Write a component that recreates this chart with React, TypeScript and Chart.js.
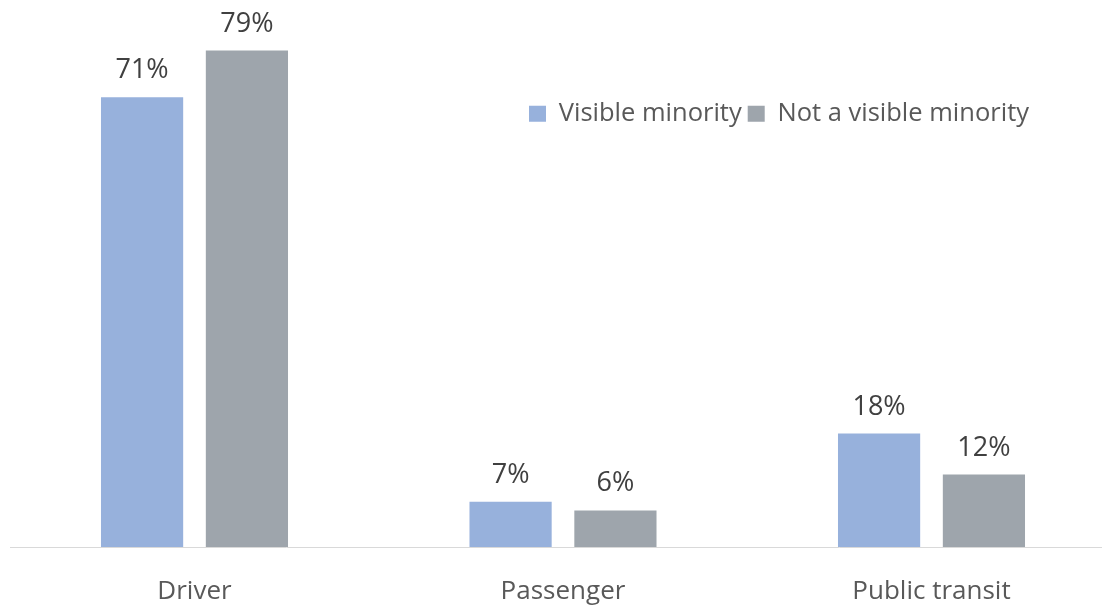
import React, { useEffect, useRef } from "react";
import { Chart, registerables } from "chart.js";

Chart.register(...registerables);

const categories = ["Driver", "Passenger", "Public transit"];
const visibleMinority = [71.4, 7.2, 18.0];
const notVisibleMinority = [78.8, 5.8, 11.5];
const seriesNames = ["Visible minority", "Not a visible minority"];
const seriesColors = ["#97B1DC", "#9EA5AC"];
const yMax = 80;

const FONT = "'Open Sans', 'Noto Sans', sans-serif";

export default function App() {
  const ref = useRef<HTMLCanvasElement>(null);

  useEffect(() => {
    if (!ref.current) return;

    const valueLabels = {
      id: "valueLabels",
      afterDatasetsDraw(chart: any) {
        const ctx = chart.ctx;
        ctx.save();
        ctx.font = `27px ${FONT}`;
        ctx.fillStyle = "#404040";
        ctx.textAlign = "center";
        ctx.textBaseline = "alphabetic";
        chart.data.datasets.forEach((ds: any, i: number) => {
          const meta = chart.getDatasetMeta(i);
          meta.data.forEach((bar: any, j: number) => {
            ctx.fillText(Math.round(ds.data[j]) + "%", bar.x, bar.y - 19);
          });
        });
        ctx.restore();
      },
    };

    // Legend sits inside the plot area: take it out of the layout and place it.
    const legendPlacer = {
      id: "legendPlacer",
      beforeLayout(chart: any) {
        const lg = chart.legend;
        if (lg && !lg._patched) {
          const orig = lg.fit.bind(lg);
          lg.fit = function () {
            orig();
            this._realHeight = this.height;
            this.height = 0;
          };
          lg._patched = true;
        }
      },
      afterLayout(chart: any) {
        const lg = chart.legend;
        if (!lg) return;
        lg.left = 523;
        lg.right = lg.left + 2000;
        lg.width = 2000;
        lg.top = 95;
        lg.height = lg._realHeight || 40;
        lg.bottom = lg.top + lg.height;
      },
    };

    const chart = new Chart(ref.current, {
      type: "bar",
      data: {
        labels: categories,
        datasets: [
          {
            label: seriesNames[0],
            data: visibleMinority,
            backgroundColor: seriesColors[0],
            categoryPercentage: 0.569,
            barPercentage: 0.784,
          },
          {
            label: seriesNames[1],
            data: notVisibleMinority,
            backgroundColor: seriesColors[1],
            categoryPercentage: 0.569,
            barPercentage: 0.784,
          },
        ],
      },
      options: {
        responsive: false,
        animation: false,
        events: [],
        layout: { padding: { left: 10.25, right: 14.25, top: 43, bottom: 2 } },
        scales: {
          x: {
            grid: { display: false, drawTicks: false },
            border: { display: true, color: "#D9D9D9", width: 1 },
            ticks: {
              color: "#595959",
              font: { family: FONT, size: 26 },
              padding: 29,
              maxRotation: 0,
            },
            afterFit(scale: any) {
              scale.height = 61;
            },
          },
          y: { display: false, min: 0, max: yMax },
        },
        plugins: {
          tooltip: { enabled: false },
          legend: {
            position: "top",
            align: "start",
            labels: {
              boxWidth: 17,
              boxHeight: 16,
              padding: 6,
              color: "#595959",
              font: { family: FONT, size: 25.5 },
            },
          },
        },
      },
      plugins: [valueLabels, legendPlacer],
    } as any);

    return () => chart.destroy();
  }, []);

  return (
    <div
      style={{
        position: "fixed",
        left: 0,
        top: 0,
        width: 1102,
        height: 610,
        overflow: "hidden",
        background: "#fff",
      }}
    >
      <canvas ref={ref} width={1130} height={610} />
    </div>
  );
}
